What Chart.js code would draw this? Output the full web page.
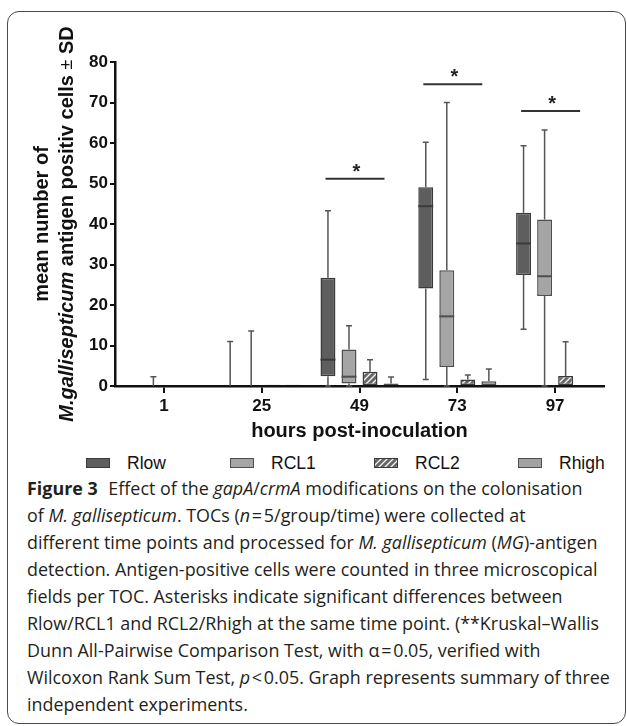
<!DOCTYPE html>
<html>
<head>
<meta charset="utf-8">
<script src="https://cdn.jsdelivr.net/npm/chart.js@4.4.1/dist/chart.umd.min.js"></script>
<style>
html,body{margin:0;padding:0;background:#fff;}
#wrap{position:relative;width:627px;height:726px;overflow:hidden;}
#frame{position:absolute;left:7px;top:11px;width:619px;height:713px;border:1.5px solid #4a4a4a;border-radius:12px;box-sizing:border-box;}
#chart{position:absolute;left:0;top:0;}
#legend{position:absolute;left:86px;top:453px;display:flex;font:17.5px "Liberation Sans",Arial,sans-serif;color:#111;}
.lg{width:144px;display:flex;align-items:center;height:20px;}
.sw{display:inline-block;width:24px;height:10px;border:1px solid #444;box-sizing:border-box;margin-right:17px;}
#caption{position:absolute;left:27px;top:475px;font:17.9px "Open Sans",sans-serif;line-height:27px;color:#231f20;white-space:nowrap;}
#caption b{font-weight:700;margin-right:6px;}
</style>
</head>
<body>
<div id="wrap">
  <div id="frame"></div>
  <canvas id="chart" width="627" height="450"></canvas>
  <div id="legend"></div>
  <div id="caption">
    <b>Figure 3</b> Effect of the <i>gapA</i>/<i>crmA</i> modifications on the colonisation<br>
    of <i>M. gallisepticum</i>. TOCs (<i>n</i>&#8202;=&#8202;5/group/time) were collected at<br>
    different time points and processed for <i>M. gallisepticum</i> (<i>MG</i>)-antigen<br>
    detection. Antigen-positive cells were counted in three microscopical<br>
    fields per TOC. Asterisks indicate significant differences between<br>
    Rlow/RCL1 and RCL2/Rhigh at the same time point. (**Kruskal–Wallis<br>
    Dunn All-Pairwise Comparison Test, with α&#8202;=&#8202;0.05, verified with<br>
    Wilcoxon Rank Sum Test, <i>p</i>&#8202;&lt;&#8202;0.05. Graph represents summary of three<br>
    independent experiments.
  </div>
</div>
<script>
/* data: box plot per group, hours post-inoculation */
var hours = ['1', '25', '49', '73', '97'];
var yTicks = [0, 10, 20, 30, 40, 50, 60, 70, 80];

var rlowMin = [0, 0, 0, 1.6, 14.0];
var rlowQ1  = [0, 0, 2.4, 24.1, 27.4];
var rlowMed = [0, 0, 6.5, 44.4, 35.2];
var rlowQ3  = [0, 0, 26.7, 49.1, 42.8];
var rlowMax = [0, 11.0, 43.3, 60.2, 59.3];

var rcl1Min = [0, 0, 0, 0, 0];
var rcl1Q1  = [0, 0, 0.6, 4.7, 22.2];
var rcl1Med = [0, 0, 2.3, 17.2, 27.1];
var rcl1Q3  = [0, 0, 9.0, 28.6, 41.1];
var rcl1Max = [2.3, 13.6, 14.9, 70.0, 63.2];

var rcl2Min = [0, 0, 0, 0, 0];
var rcl2Q1  = [0, 0, 0, 0, 0];
var rcl2Med = [0, 0, 0, 0, 0];
var rcl2Q3  = [0, 0.3, 3.5, 1.6, 2.5];
var rcl2Max = [0, 0.3, 6.5, 2.7, 10.9];

var rhighMin = [0, 0, 0, 0, 1.9];
var rhighQ1  = [0, 0, 0, 0, 1.9];
var rhighMed = [0, 0, 0, 0, 1.9];
var rhighQ3  = [0, 0.3, 0.6, 1.2, 1.9];
var rhighMax = [0, 0.3, 2.2, 4.2, 1.9];

// height of the significance bar (*) per time point
var sigLevel = [null, null, 51.2, 74.5, 67.9];

/* hatch for RCL2 */
function makeHatch(){
  var c = document.createElement('canvas');
  c.width = 6; c.height = 6;
  var g = c.getContext('2d');
  g.fillStyle = '#666';
  g.fillRect(0, 0, 6, 6);
  g.strokeStyle = '#f4f4f4';
  g.lineWidth = 1.3;
  g.beginPath();
  g.moveTo(0, 6); g.lineTo(6, 0);
  g.moveTo(-3, 3); g.lineTo(3, -3);
  g.moveTo(3, 9); g.lineTo(9, 3);
  g.stroke();
  return c;
}

function boxSet(label, mn, q1, med, q3, mx, fill, edge){
  return {
    label: label,
    data: q1.map(function(v, i){ return [v, q3[i]]; }),
    lo: mn, med: med, hi: mx,
    backgroundColor: fill,
    borderColor: edge,
    borderWidth: 1.5,
    borderSkipped: false,
    categoryPercentage: 0.86,
    barPercentage: 0.71
  };
}

/* whiskers + medians */
var whiskerPlugin = {
  id: 'whiskers',
  afterDatasetsDraw: function(chart){
    var c = chart.ctx, ys = chart.scales.y;
    c.save();
    chart.data.datasets.forEach(function(ds, d){
      var meta = chart.getDatasetMeta(d);
      meta.data.forEach(function(bar, i){
        var x = bar.x, hw = bar.width / 2;
        var yLo = ys.getPixelForValue(ds.lo[i]), yHi = ys.getPixelForValue(ds.hi[i]);
        var yQ1 = ys.getPixelForValue(ds.data[i][0]), yQ3 = ys.getPixelForValue(ds.data[i][1]);
        c.strokeStyle = '#555';
        c.lineWidth = 1.5;
        c.beginPath();
        if(yHi < yQ3 - 0.5){
          c.moveTo(x, yQ3); c.lineTo(x, yHi);
          c.moveTo(x - 3, yHi); c.lineTo(x + 3, yHi);
        }
        if(yLo > yQ1 + 0.5){
          c.moveTo(x, yQ1); c.lineTo(x, yLo);
          c.moveTo(x - 3, yLo); c.lineTo(x + 3, yLo);
        }
        c.stroke();
        if(ds.med[i] > ds.data[i][0] && ds.med[i] < ds.data[i][1]){
          var ym = ys.getPixelForValue(ds.med[i]);
          c.strokeStyle = ds.borderColor;
          c.lineWidth = 2;
          c.beginPath();
          c.moveTo(x - hw, ym); c.lineTo(x + hw, ym);
          c.stroke();
        }
      });
    });
    c.restore();
  }
};

/* significance bars */
var sigPlugin = {
  id: 'sig',
  afterDraw: function(chart){
    var c = chart.ctx, xs = chart.scales.x, ys = chart.scales.y;
    c.save();
    sigLevel.forEach(function(v, i){
      if(v === null) return;
      var xc = xs.getPixelForValue(i), y = ys.getPixelForValue(v);
      c.strokeStyle = '#333';
      c.lineWidth = 2;
      c.beginPath();
      c.moveTo(xc - 34, y); c.lineTo(xc + 25, y);
      c.stroke();
      c.fillStyle = '#222';
      c.font = 'bold 20px "Liberation Sans", Arial, sans-serif';
      c.textAlign = 'center';
      c.textBaseline = 'alphabetic';
      c.fillText('*', xc - 3, y - 1);
    });
    c.restore();
  }
};

/* two-line y title with italic species name */
var yTitlePlugin = {
  id: 'ytitle',
  afterDraw: function(chart){
    var c = chart.ctx, a = chart.chartArea;
    var cy = (a.top + a.bottom) / 2;
    var bold = 'bold 20px "Liberation Sans", Arial, sans-serif';
    var parts = [
      {t: 'M.gallisepticum', f: 'italic bold 20px "Liberation Sans", Arial, sans-serif'},
      {t: ' antigen positiv cells ', f: bold},
      {t: '±', f: '18px "Liberation Sans", Arial, sans-serif'},
      {t: ' SD', f: bold}
    ];
    c.save();
    c.fillStyle = '#111';
    c.textBaseline = 'middle';
    c.translate(a.left - 73, cy);
    c.rotate(-Math.PI / 2);
    c.font = bold;
    c.textAlign = 'center';
    c.fillText('mean number of', 0, 0);
    c.restore();

    c.save();
    c.fillStyle = '#111';
    c.textBaseline = 'middle';
    c.translate(a.left - 48, cy);
    c.rotate(-Math.PI / 2);
    var total = 0;
    parts.forEach(function(p){ c.font = p.f; p.w = c.measureText(p.t).width; total += p.w; });
    var x = -total / 2;
    c.textAlign = 'left';
    parts.forEach(function(p){ c.font = p.f; c.fillText(p.t, x, 0); x += p.w; });
    c.restore();
  }
};

var canvas = document.getElementById('chart');
var ctx = canvas.getContext('2d');
var hatch = ctx.createPattern(makeHatch(), 'repeat');

var datasets = [
  boxSet('Rlow', rlowMin, rlowQ1, rlowMed, rlowQ3, rlowMax, '#5e5e5e', '#3a3a3a'),
  boxSet('RCL1', rcl1Min, rcl1Q1, rcl1Med, rcl1Q3, rcl1Max, '#a5a5a5', '#4e4e4e'),
  boxSet('RCL2', rcl2Min, rcl2Q1, rcl2Med, rcl2Q3, rcl2Max, hatch, '#3a3a3a'),
  boxSet('Rhigh', rhighMin, rhighQ1, rhighMed, rhighQ3, rhighMax, '#a2a2a2', '#4e4e4e')
];

var tickFont = {family: '"Liberation Sans", Arial, sans-serif', size: 17, weight: 'bold'};

new Chart(ctx, {
  type: 'bar',
  data: {labels: hours, datasets: datasets},
  options: {
    responsive: false,
    animation: false,
    devicePixelRatio: 1,
    layout: {padding: {left: 0, right: 23, top: 62, bottom: 4}},
    plugins: {legend: {display: false}, tooltip: {enabled: false}},
    scales: {
      x: {
        grid: {display: true, drawOnChartArea: false, offset: false, color: '#111', lineWidth: 2, tickLength: 7},
        border: {display: true, color: '#111', width: 2.5},
        ticks: {font: tickFont, color: '#111', padding: 3},
        title: {display: true, text: 'hours post-inoculation', color: '#111', padding: {top: 0, bottom: 3},
          font: {family: '"Liberation Sans", Arial, sans-serif', size: 20, weight: 'bold'}},
        afterFit: function(s){ s.height = 60; }
      },
      y: {
        min: 0, max: 80,
        afterBuildTicks: function(s){ s.ticks = yTicks.map(function(v){ return {value: v}; }); },
        grid: {display: true, drawOnChartArea: false, color: '#111', lineWidth: 2, tickLength: 5},
        border: {display: true, color: '#111', width: 2.5},
        ticks: {font: tickFont, color: '#111', padding: 2},
        afterFit: function(s){ s.width = 115; }
      }
    }
  },
  plugins: [whiskerPlugin, sigPlugin, yTitlePlugin]
});

/* legend from the datasets */
var lg = document.getElementById('legend');
datasets.forEach(function(ds){
  var item = document.createElement('div');
  item.className = 'lg';
  var sw = document.createElement('span');
  sw.className = 'sw';
  if(ds.backgroundColor === hatch){
    sw.style.backgroundImage = 'url(' + makeHatch().toDataURL() + ')';
  } else {
    sw.style.background = ds.backgroundColor;
  }
  sw.style.borderColor = ds.borderColor;
  item.appendChild(sw);
  item.appendChild(document.createTextNode(ds.label));
  lg.appendChild(item);
});
</script>
</body>
</html>
